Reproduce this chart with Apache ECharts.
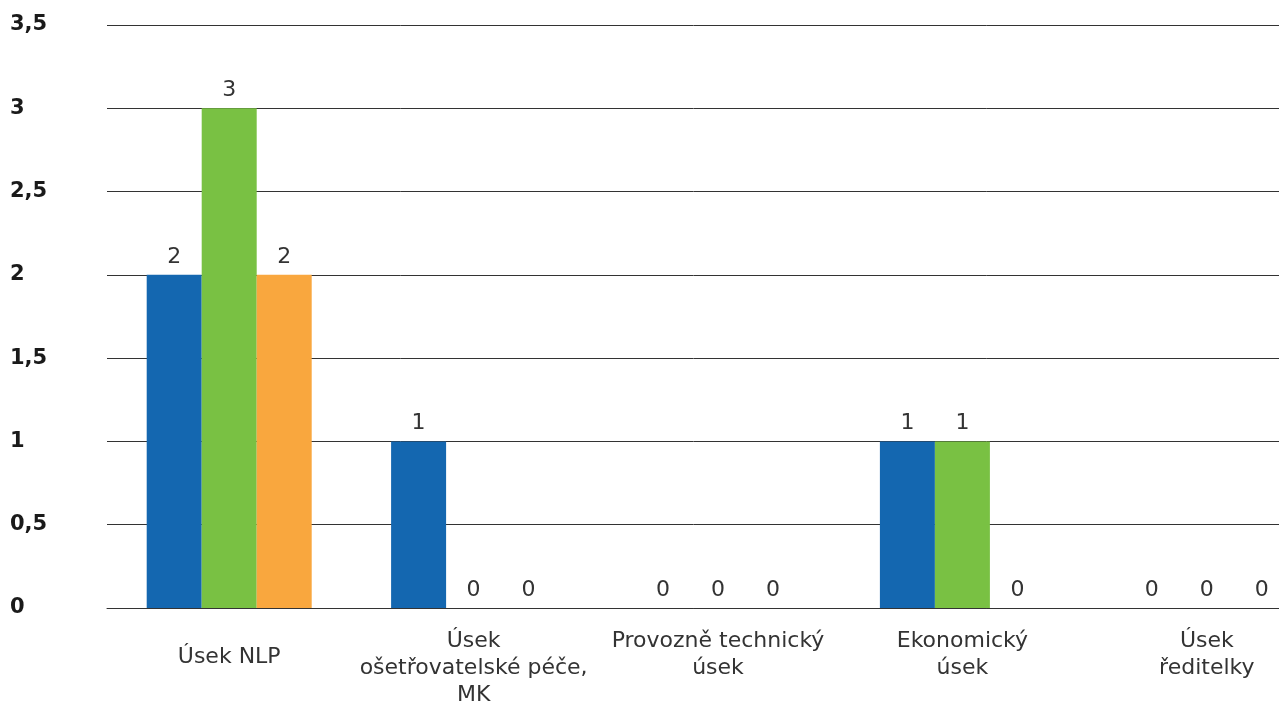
<!DOCTYPE html>
<html>
<head>
<meta charset="utf-8">
<script src="https://cdn.jsdelivr.net/npm/echarts@6/dist/echarts.min.js"></script>
<style>
html,body{margin:0;padding:0;background:#fff;}
#chart{width:1279px;height:704px;}
</style>
</head>
<body>
<div id="chart"></div>
<script>
var categories = ['Úsek NLP', 'Úsek\nošetřovatelské péče,\nMK', 'Provozně technický\núsek', 'Ekonomický\núsek', 'Úsek\nředitelky'];
var seriesNames = ['Série 1', 'Série 2', 'Série 3'];
var seriesBlue = [2, 1, 0, 1, 0];
var seriesGreen = [3, 0, 0, 1, 0];
var seriesOrange = [2, 0, 0, 0, 0];
var yTicks = { min: 0, max: 3.5, interval: 0.5 };

var colors = ['#1467b0', '#79c143', '#f9a73e'];
var fontFamily = '"DejaVu Sans", "Noto Sans", sans-serif';

function mkSeries(name, data, color) {
  return {
    name: name,
    type: 'bar',
    data: data,
    barWidth: 55,
    barGap: '0%',
    itemStyle: { color: color },
    label: {
      show: true,
      position: 'top',
      distance: 7,
      color: '#333',
      fontSize: 22,
      fontFamily: fontFamily
    }
  };
}

var chart = echarts.init(document.getElementById('chart'), null, { renderer: 'canvas' });
chart.setOption({
  animation: false,
  backgroundColor: '#fff',
  grid: { left: 107, top: 25, bottom: 96, width: 1222, containLabel: false, outerBoundsMode: 'none' },
  xAxis: {
    type: 'category',
    data: categories.map(function (c, i) {
      return i === 0 ? { value: c, textStyle: { padding: [16, 0, 0, 0] } } : c;
    }),
    axisLine: { show: true, lineStyle: { color: '#333', width: 1 } },
    axisTick: { show: false },
    axisLabel: {
      interval: 0,
      margin: 20,
      color: '#333',
      fontSize: 22,
      lineHeight: 27,
      fontFamily: fontFamily,
      align: 'center'
    }
  },
  yAxis: {
    type: 'value',
    min: yTicks.min,
    max: yTicks.max,
    interval: yTicks.interval,
    axisLine: { show: false },
    axisTick: { show: false },
    splitLine: { show: true, lineStyle: { color: '#333', width: 1 } },
    axisLabel: {
      align: 'left',
      margin: 97,
      color: '#1a1a1a',
      fontWeight: 'bold',
      fontSize: 21,
      fontFamily: fontFamily,
      formatter: function (v) { return String(v).replace('.', ','); }
    }
  },
  series: [
    mkSeries(seriesNames[0], seriesBlue, colors[0]),
    mkSeries(seriesNames[1], seriesGreen, colors[1]),
    mkSeries(seriesNames[2], seriesOrange, colors[2])
  ]
});
</script>
</body>
</html>
